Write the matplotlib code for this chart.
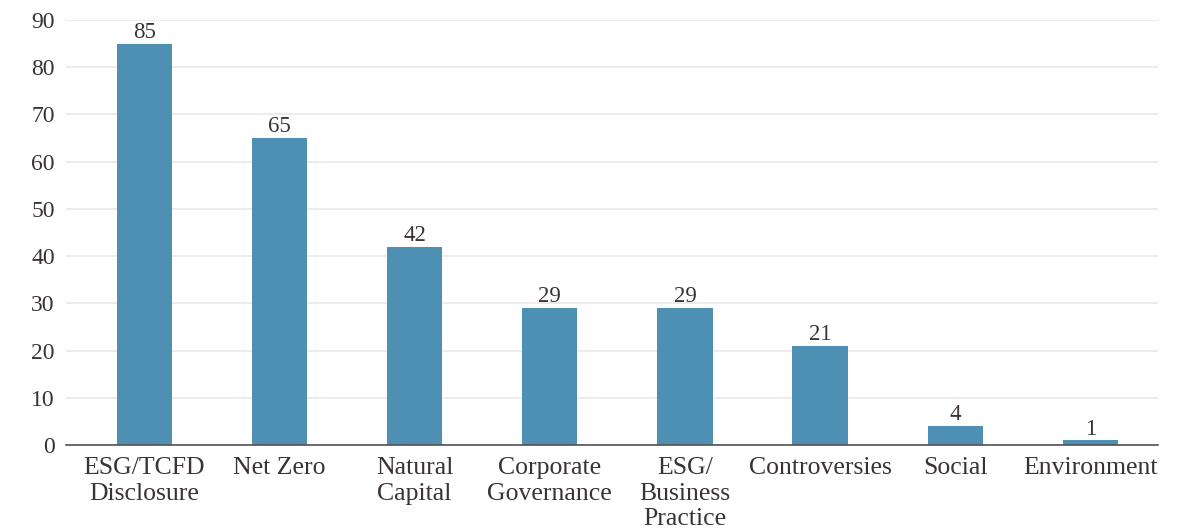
import matplotlib
matplotlib.use("Agg")
import matplotlib.pyplot as plt

categories = ["ESG/TCFD\nDisclosure", "Net Zero", "Natural\nCapital", "Corporate\nGovernance",
              "ESG/\nBusiness\nPractice", "Controversies", "Social", "Environment"]
counts = [85, 65, 42, 29, 29, 21, 4, 1]
y_ticks = [0, 10, 20, 30, 40, 50, 60, 70, 80, 90]

bar_color = "#4E90B4"
text_color = "#3B3232"
grid_color = "#EEE6E9"

plt.rcParams["font.family"] = ["Liberation Serif", "DejaVu Serif"]

fig = plt.figure(figsize=(11.95, 5.30), dpi=100)
ax = fig.add_axes([0.0552, 0.1604, 0.9138, 0.8019])

x = list(range(len(categories)))
bars = ax.bar(x, counts, width=0.41, color=bar_color, zorder=3)

for xi, v in zip(x, counts):
    ax.text(xi, v + 0.15, str(v), ha="center", va="bottom", fontsize=16.5,
            color=text_color, zorder=4)

ax.set_ylim(0, 90)
ax.set_xlim(-0.58, 7.5)
ax.set_yticks(y_ticks)
ax.set_yticklabels([str(t) for t in y_ticks], fontsize=17, color=text_color)
ax.set_xticks(x)
ax.set_xticklabels(categories, fontsize=18.5, color=text_color, linespacing=1.2)

ax.yaxis.grid(True, color=grid_color, linewidth=1.2, zorder=0)
ax.set_axisbelow(True)
ax.tick_params(axis="both", length=0)
ax.tick_params(axis="y", pad=8)
ax.tick_params(axis="x", pad=9)

for side in ["left", "right", "top"]:
    ax.spines[side].set_visible(False)
ax.spines["bottom"].set_color("#555050")
ax.spines["bottom"].set_linewidth(1.2)
ax.spines["bottom"].set_zorder(5)

fig.savefig("out.png", dpi=100, facecolor="white")
